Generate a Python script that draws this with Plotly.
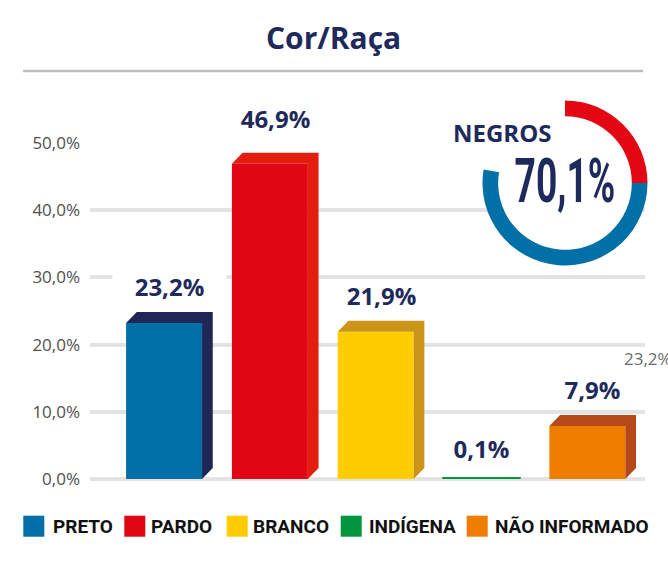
import plotly.graph_objects as go

# ---------------- data ----------------
categories = ["PRETO", "PARDO", "BRANCO", "INDÍGENA", "NÃO INFORMADO"]
values = [23.2, 46.9, 21.9, 0.1, 7.9]
value_labels = ["23,2%", "46,9%", "21,9%", "0,1%", "7,9%"]
front_colors = ["#0070A7", "#E10613", "#FFCC00", "#009640", "#EF7D00"]
side_colors = ["#1F2756", "#E31E0E", "#CC951A", "#009640", "#B5491A"]
has_depth = [True, True, True, False, True]
ytick_vals = [0, 10, 20, 30, 40, 50]
ytick_text = ["0,0%", "10,0%", "20,0%", "30,0%", "40,0%", "50,0%"]
donut_values = [25.0, 52.6, 22.4]
donut_colors = ["#E30613", "#0070A7", "rgba(0,0,0,0)"]
title_text = "Cor/Raça"
badge_label = "NEGROS"
badge_value = "70,1%"
stray_label = "23,2%"

# ---------------- layout constants ----------------
W, H = 668, 585
NAVY = "#1F2A5C"
def px(p):
    return p / W
def py(p):
    return 1 - p / H

x_index = list(range(len(categories)))
bar_w = 0.718
dx = 0.101
dy = 1.64
label_shift = [37, 45, 36, 30, 36]
label_bg = ["white", "rgba(0,0,0,0)", "rgba(0,0,0,0)", "rgba(0,0,0,0)", "rgba(0,0,0,0)"]

fig = go.Figure()

# front faces
fig.add_trace(go.Bar(
    x=x_index, y=values, width=bar_w,
    marker=dict(color=front_colors,
                line=dict(color=front_colors,
                          width=[0 if d else 2.5 for d in has_depth])),
    hoverinfo="skip", showlegend=False,
))

# top + side faces (3D effect) built from the values
for i, v in enumerate(values):
    if not has_depth[i]:
        continue
    x0 = x_index[i] - bar_w / 2
    x1 = x_index[i] + bar_w / 2
    xs = [x0, x0 + dx, x1 + dx, x1 + dx, x1, x1, x0]
    ys = [v, v + dy, v + dy, dy, 0, v, v]
    fig.add_trace(go.Scatter(
        x=xs, y=ys, mode="lines", fill="toself",
        fillcolor=side_colors[i], line=dict(width=0, color=side_colors[i]),
        hoverinfo="skip", showlegend=False,
    ))

# donut (white disk underneath, ring on top)
cx, cy, r = 565, 183, 82.5
dom = dict(x=[px(cx - r), px(cx + r)], y=[py(cy + r), py(cy - r)])
fig.add_trace(go.Pie(values=[1], marker=dict(colors=["white"]),
                     domain=dom, textinfo="none", hoverinfo="skip",
                     showlegend=False, sort=False))
fig.add_trace(go.Pie(values=donut_values, marker=dict(colors=donut_colors),
                     domain=dom, hole=0.81, textinfo="none", hoverinfo="skip",
                     showlegend=False, sort=False, direction="clockwise",
                     rotation=0))

annotations = []
# value labels
for i, v in enumerate(values):
    annotations.append(dict(
        x=x_index[i] + (dx / 2 if has_depth[i] else 0), y=v,
        xref="x", yref="y", text=value_labels[i], showarrow=False,
        yanchor="middle", yshift=label_shift[i], bgcolor=label_bg[i], width=111,
        font=dict(family="Open Sans, sans-serif", size=24, color=NAVY, weight="bold"),
    ))

# title
annotations.append(dict(x=px(333), y=py(37), xref="paper", yref="paper",
                        xanchor="center", yanchor="middle",
                        text=title_text, showarrow=False,
                        font=dict(family="Open Sans, sans-serif", size=30,
                                  color=NAVY, weight="bold")))
# badge
annotations.append(dict(x=px(502), y=py(133), xref="paper", yref="paper",
                        xanchor="center", yanchor="middle",
                        text=badge_label, showarrow=False,
                        font=dict(family="Open Sans, sans-serif", size=24,
                                  color=NAVY, weight="bold")))
annotations.append(dict(x=px(565), y=py(180), xref="paper", yref="paper",
                        xanchor="center", yanchor="middle",
                        text=badge_value, showarrow=False,
                        font=dict(family="Roboto, sans-serif",
                                  size=62, color=NAVY, weight="bold")))
# stray label at the right edge
annotations.append(dict(x=px(622), y=py(358), xref="paper", yref="paper",
                        xanchor="left", yanchor="middle", text=stray_label, showarrow=False,
                        font=dict(family="Open Sans, sans-serif", size=17,
                                  color="#6B6B6B")))

# manual legend
leg_sq_x = [23.3, 124.3, 226.7, 340.7, 466.7]
leg_tx_x = [51.0, 148.5, 251.0, 366.5, 492.5]
sq = 21
sq_top = 515.7
shapes = []
for i, name in enumerate(categories):
    shapes.append(dict(type="rect", xref="paper", yref="paper",
                       x0=px(leg_sq_x[i]), x1=px(leg_sq_x[i] + sq),
                       y0=py(sq_top + sq), y1=py(sq_top),
                       fillcolor=front_colors[i], line=dict(width=0)))
    annotations.append(dict(x=px(leg_tx_x[i]), y=py(526.5), xref="paper", yref="paper",
                            xanchor="left", yanchor="middle", text=name, showarrow=False,
                            font=dict(family="Roboto, sans-serif",
                                      size=19, color="#111111", weight="bold")))

# rule under title
shapes.append(dict(type="line", xref="paper", yref="paper",
                   x0=px(23), x1=px(643), y0=py(71), y1=py(71),
                   line=dict(color="#BDBDBD", width=2.5)))
# white patch behind the badge hiding the gridline
shapes.append(dict(type="rect", xref="paper", yref="paper", layer="between",
                   x0=px(425), x1=px(633), y0=py(152), y1=py(112),
                   fillcolor="white", line=dict(width=0)))

fig.update_layout(
    width=W, height=H,
    margin=dict(l=0, r=0, t=0, b=0, pad=0, autoexpand=False),
    paper_bgcolor="white", plot_bgcolor="white",
    showlegend=False,
    xaxis=dict(domain=[px(90), px(645)], range=[-0.70, 4.545],
               showgrid=False, zeroline=False, showticklabels=False,
               ticks="", fixedrange=True, automargin=False),
    yaxis=dict(domain=[py(479), py(143)], range=[0, 50],
               tickvals=ytick_vals, ticktext=ytick_text,
               showgrid=True, gridcolor="#E3E3E3", gridwidth=3.5,
               zeroline=True, zerolinecolor="#E3E3E3", zerolinewidth=3.5,
               ticks="", ticklabelstandoff=9, automargin=False,
               tickfont=dict(family="Open Sans, sans-serif", size=17, color="#505050"),
               fixedrange=True),
    annotations=annotations,
    shapes=shapes,
)

# horizontally condense the big badge number (the reference uses a condensed face)
post_js = """
(function(){
  var gd = document.getElementById('{plot_id}');
  function squeeze(){
    var ts = gd.querySelectorAll('text.annotation-text');
    ts.forEach(function(t){
      if (t.textContent === '%s' && !t.dataset.sq) {
        var bb = t.getBBox();
        var cxp = bb.x + bb.width / 2;
        var prev = t.getAttribute('transform') || '';
        t.setAttribute('transform', prev + ' translate(' + cxp + ',0) scale(0.6,1) translate(' + (-cxp) + ',0)');
        t.dataset.sq = '1';
      }
    });
  }
  squeeze();
  if (gd.on) { gd.on('plotly_afterplot', squeeze); }
})();
""" % badge_value

fig.write_html("out.html", include_plotlyjs=True,
               config={"displayModeBar": False}, post_script=post_js)
